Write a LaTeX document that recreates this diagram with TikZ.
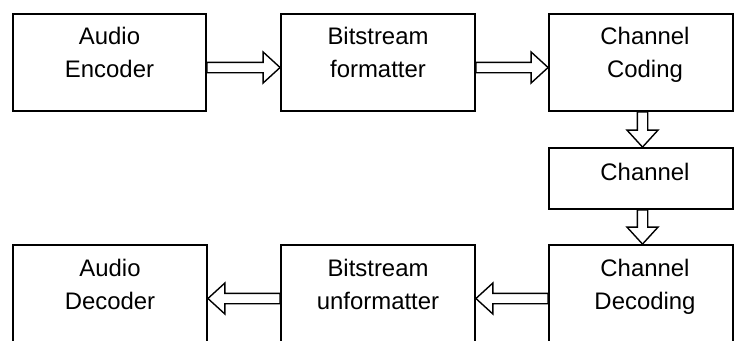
\documentclass[tikz,border=0pt]{standalone}
\usepackage{fontspec}
\setmainfont{Liberation Sans}
\usetikzlibrary{calc}
\newcommand\hollowarrow[2]{%
  \coordinate (hb) at ($(#2)!17bp!(#1)$);
  \draw[hollow] ($(#1)!5.2bp!90:(#2)$) -- ($(hb)!5.2bp!90:(#2)$) -- ($(hb)!15.5bp!90:(#2)$) -- (#2)
    -- ($(hb)!15.5bp!-90:(#2)$) -- ($(hb)!5.2bp!-90:(#2)$) -- ($(#1)!5.2bp!-90:(#2)$) -- cycle;}
\begin{document}
\begin{tikzpicture}[x=1bp,y=-1bp,
  blk/.style={draw, line width=1.8bp, inner sep=0pt, minimum height=97bp},
  lbl/.style={font=\fontsize{24}{33}\selectfont, align=center, anchor=base, inner sep=0pt},
  hollow/.style={draw, line width=1.4bp, fill=white, line join=miter}]
\useasboundingbox (0,0) rectangle (734,340);
% boxes
\node[blk, minimum width=193bp] (enc) at (109.5,62.5) {};
\node[blk, minimum width=194bp] (fmt) at (378,62.5) {};
\node[blk, minimum width=184bp] (cod) at (641,62.5) {};
\node[blk, minimum width=184bp, minimum height=61bp] (chan) at (641,178.5) {};
\node[blk, minimum width=184bp] (dcd) at (641,293.5) {};
\node[blk, minimum width=194bp] (ufmt) at (378,293.5) {};
\node[blk, minimum width=194bp] (dec) at (110,293.5) {};
% arrow end points
\coordinate (a1s) at ([yshift=-5bp]enc.east);
\coordinate (a1e) at ([yshift=-5bp]fmt.west);
\coordinate (a2s) at ([yshift=-5bp]fmt.east);
\coordinate (a2e) at ([yshift=-5bp]cod.west);
\coordinate (a3s) at ([xshift=1.5bp]cod.south);
\coordinate (a3e) at ([xshift=1.5bp]chan.north);
\coordinate (a4s) at ([xshift=1.5bp]chan.south);
\coordinate (a4e) at ([xshift=1.5bp]dcd.north);
\coordinate (a5s) at ([yshift=-5bp]dcd.west);
\coordinate (a5e) at ([yshift=-5bp]ufmt.east);
\coordinate (a6s) at ([yshift=-5bp]ufmt.west);
\coordinate (a6e) at ([yshift=-5bp]dec.east);
\hollowarrow{a1s}{a1e}
\hollowarrow{a2s}{a2e}
\hollowarrow{a3s}{a3e}
\hollowarrow{a4s}{a4e}
\hollowarrow{a5s}{a5e}
\hollowarrow{a6s}{a6e}
% labels (base anchor = baseline of the last line)
\node[lbl] (tenc) at ($(enc.north)+(0,64)$) {Audio\\Encoder};
\node[lbl] (tfmt) at ($(fmt.north)+(0,64)$) {Bitstream\\formatter};
\node[lbl] (tcod) at ($(cod.north)+(4,64)$) {Channel\\Coding};
\node[lbl] (tchan) at ($(chan.north)+(4,33.5)$) {Channel};
\node[lbl] (tdcd) at ($(dcd.north)+(4,65)$) {Channel\\Decoding};
\node[lbl] (tufmt) at ($(ufmt.north)+(0,65)$) {Bitstream\\unformatter};
\node[lbl] (tdec) at ($(dec.north)+(0,65)$) {Audio\\Decoder};
\end{tikzpicture}
\end{document}
